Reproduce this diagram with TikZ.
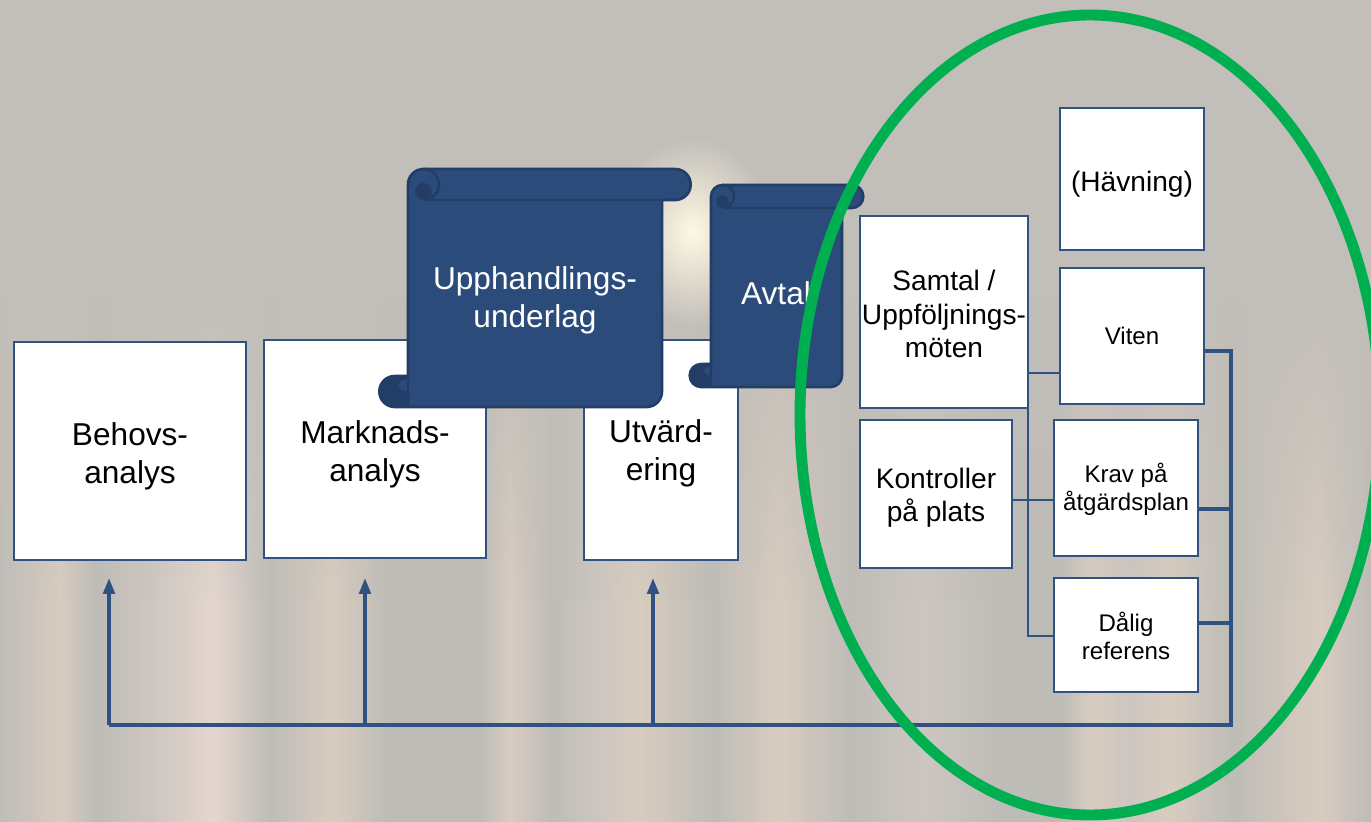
\documentclass[tikz,border=0pt]{standalone}
\usepackage{fontspec}
\setmainfont{Liberation Sans}
\usetikzlibrary{arrows.meta,fadings}

\definecolor{bgbase}{HTML}{C2BEB9}
\definecolor{boxblue}{HTML}{2F5283}
\definecolor{scrollblue}{HTML}{2B4C7A}
\definecolor{scrolldark}{HTML}{223E66}
\definecolor{ringgreen}{HTML}{00B050}
\definecolor{glowcream}{HTML}{FFF8E4}
\definecolor{sa}{HTML}{D8CCC0}
\definecolor{sb}{HTML}{BEBCB7}
\definecolor{sc}{HTML}{E4D6CE}
\definecolor{sd}{HTML}{CDC6C0}

% only 25bp to 75bp of a shading reaches the path
\pgfdeclarehorizontalshading{stripes}{100bp}{
  color(0bp)=(sb); color(25bp)=(sb); color(27.2bp)=(sa); color(28.5bp)=(sb);
  color(30.5bp)=(sd); color(32.8bp)=(sc); color(34.85bp)=(sb); color(37.1bp)=(sa);
  color(39.2bp)=(sb); color(42.5bp)=(sb); color(43.6bp)=(sa); color(45.1bp)=(sb);
  color(46.8bp)=(sd); color(48.3bp)=(sa); color(51bp)=(sb); color(53.4bp)=(sa);
  color(56bp)=(sb); color(58.6bp)=(sd); color(61.5bp)=(sb); color(63.7bp)=(sb);
  color(64.75bp)=(sa); color(66.2bp)=(sd); color(67.7bp)=(sa); color(69.9bp)=(sb);
  color(73.1bp)=(sa); color(75bp)=(sb); color(100bp)=(sb)}

\tikzfading[name=glowfade,inner color=transparent!0,outer color=transparent!100]

\tikzset{
  plainbox/.style={draw=boxblue,line width=1.4pt,fill=white,align=center,inner sep=0pt,
    font=\fontsize{18}{21.5}\selectfont,text=black},
  midbox/.style={plainbox,font=\fontsize{16}{19}\selectfont},
  smallbox/.style={plainbox,font=\fontsize{13.7}{16}\selectfont},
  thinline/.style={draw=boxblue,line width=1.2pt},
  thickline/.style={draw=boxblue,line width=2.5pt},
  busarrow/.style={draw=boxblue,line width=2pt,-{Triangle[length=9pt,width=6.5pt]}},
  scrolltext/.style={align=center,text=white,inner sep=0pt,font=\fontsize{18}{21.5}\selectfont}
}

% pushes a label down inside its box
\newcommand{\lowtext}[1]{\rule{0pt}{#1pt}}

% left, right, top, bottom, radius
\newcommand{\drawscroll}[5]{
  \pgfmathsetmacro{\exa}{1.85*#5}
  \pgfmathsetmacro{\rad}{0.567*#5}
  \draw[draw=scrolldark,line width=1.5pt,fill=scrollblue,rounded corners=\rad pt]
    (#1,#3+#5) -- (#1,#3) -- (#2+\exa,#3) -- (#2+\exa,#3+2*#5) [sharp corners] -- (#2,#3+2*#5)
    [rounded corners=\rad pt] -- (#2,#4) -- (#1-\exa,#4) -- (#1-\exa,#4-2*#5)
    [sharp corners] -- (#1,#4-2*#5) -- cycle;
  % upper curl
  \draw[scrolldark,line width=1.5pt] (#1+#5,#3+2*#5) -- (#2+\exa-#5,#3+2*#5);
  \fill[scrolldark] (#1+#5,#3+1.45*#5) circle[radius=0.55*#5];
  \draw[scrolldark,line width=1.5pt] (#1+#5,#3) arc[start angle=-90,end angle=90,radius=#5];
  % lower curl
  \fill[scrolldark] (#1+0.1*#5,#4-2*#5) -- (#1-\exa+#5,#4-2*#5)
    arc[start angle=-90,end angle=-270,radius=#5] -- (#1+0.1*#5,#4) -- cycle;
  \fill[scrollblue] (#1-0.25*#5,#4-1.75*#5) rectangle (#1+0.1*#5,#4-1.05*#5);
  \fill[scrollblue] (#1-0.25*#5,#4-1.4*#5) circle[radius=0.35*#5];
  \draw[scrolldark,line width=1.5pt] (#1,#4-2*#5) -- (#1,#4-0.2*#5);
}

\begin{document}
\begin{tikzpicture}[x=0.02cm,y=-0.02cm]
  \useasboundingbox (0,0) rectangle (1371,821);

  % background
  \fill[bgbase] (0,0) rectangle (1371,821);
  \shade[shading=stripes,path fading=north] (0,300) rectangle (1371,600);
  \shade[shading=stripes] (0,600) rectangle (1371,821);
  \shade[inner color=glowcream,outer color=glowcream,path fading=glowfade]
    (692,232) ellipse[x radius=80,y radius=95];

  % boxes
  \node[plainbox,minimum width=4.64cm,minimum height=4.36cm] (behov) at (130,451) {\lowtext{19}Behovs-\\analys};
  \node[plainbox,minimum width=4.44cm,minimum height=4.36cm] (marknad) at (375,449) {\lowtext{19}Marknads-\\analys};
  \node[plainbox,minimum width=3.08cm,minimum height=4.4cm] (utvard) at (661,450) {\lowtext{16.5}Utvärd-\\ering};
  \node[midbox,minimum width=3.36cm,minimum height=3.84cm] (samtal) at (944,312) {\lowtext{14}Samtal /\\Uppföljnings-\\möten};
  \node[midbox,minimum width=2.88cm,minimum height=2.84cm] (havning) at (1132,179) {\lowtext{17}(Hävning)};
  \node[smallbox,minimum width=2.88cm,minimum height=2.72cm] (viten) at (1132,336) {Viten};
  \node[midbox,minimum width=3.04cm,minimum height=2.96cm] (kontroll) at (936,494) {\lowtext{16}Kontroller\\på plats};
  \node[smallbox,minimum width=2.88cm,minimum height=2.72cm] (krav) at (1126,488) {\lowtext{12.5}Krav på\\åtgärdsplan};
  \node[smallbox,minimum width=2.88cm,minimum height=2.28cm] (dalig) at (1126,635) {\lowtext{12.5}Dålig\\referens};

  % thin connectors
  \coordinate (samtalout) at (1028,373);
  \coordinate (daligin) at (1028,636);
  \coordinate (kontrollout) at (1012,500);
  \draw[thinline] (samtalout) -- (viten.west |- samtalout);
  \draw[thinline] (samtalout) -- (daligin) -- (dalig.west |- daligin);
  \draw[thinline] (kontrollout) -- (krav.west |- kontrollout);

  % feedback rail
  \coordinate (railtop) at (1231,351);
  \coordinate (railkrav) at (1231,509);
  \coordinate (raildalig) at (1231,623);
  \coordinate (railend) at (1231,725);
  \coordinate (busa) at (109,725);
  \coordinate (busb) at (365,725);
  \coordinate (busc) at (653,725);
  \coordinate (upa) at (109,578);
  \coordinate (upb) at (365,578);
  \coordinate (upc) at (653,578);
  \draw[thickline] (viten.east |- railtop) -- (railtop) -- (railend) -- (busa);
  \draw[thickline] (krav.east |- railkrav) -- (railkrav);
  \draw[thickline] (dalig.east |- raildalig) -- (raildalig);
  \draw[busarrow] (busa) -- (upa);
  \draw[busarrow] (busb) -- (upb);
  \draw[busarrow] (busc) -- (upc);

  % scrolls
  \drawscroll{408}{662}{169}{407}{15.5}
  \node[scrolltext] (underlag) at (535,300) {Upphandlings-\\underlag};
  \drawscroll{711}{842}{185}{387}{11.5}
  \node[scrolltext] (avtal) at (776,293) {Avtal};

  % ring
  \draw[ringgreen,line width=6.2pt] (1090,415) ellipse[x radius=290,y radius=400];
\end{tikzpicture}
\end{document}
